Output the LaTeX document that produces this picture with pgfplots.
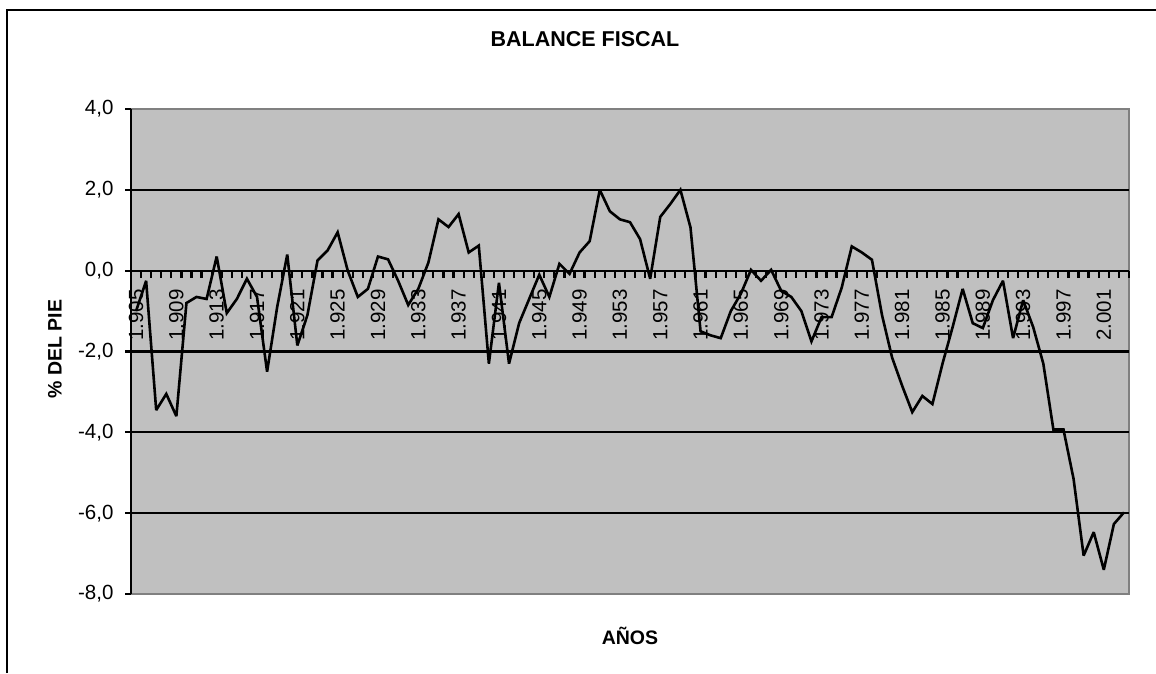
\documentclass[border=0pt]{standalone}
\usepackage{fontspec}
\setmainfont{Liberation Sans}
\usepackage{pgfplots}
\pgfplotsset{compat=1.18}
\usepackage{pgfplotstable}
\definecolor{plotgray}{RGB}{192,192,192}
\definecolor{bordergray}{RGB}{128,128,128}

\pgfplotstableread{
year val
1905 -1.0
1906 -0.25
1907 -3.45
1908 -3.05
1909 -3.6
1910 -0.8
1911 -0.65
1912 -0.7
1913 0.35
1914 -1.05
1915 -0.7
1916 -0.2
1917 -0.65
1918 -2.5
1919 -0.9
1920 0.4
1921 -1.85
1922 -1.1
1923 0.25
1924 0.5
1925 0.95
1926 0.0
1927 -0.65
1928 -0.45
1929 0.35
1930 0.28
1931 -0.25
1932 -0.85
1933 -0.45
1934 0.2
1935 1.27
1936 1.08
1937 1.4
1938 0.45
1939 0.62
1940 -2.3
1941 -0.3
1942 -2.3
1943 -1.3
1944 -0.7
1945 -0.1
1946 -0.65
1947 0.17
1948 -0.08
1949 0.45
1950 0.73
1951 2.0
1952 1.47
1953 1.27
1954 1.2
1955 0.78
1956 -0.2
1957 1.33
1958 1.65
1959 2.0
1960 1.07
1961 -1.5
1962 -1.6
1963 -1.67
1964 -1.0
1965 -0.57
1966 0.02
1967 -0.25
1968 0.02
1969 -0.5
1970 -0.65
1971 -1.0
1972 -1.75
1973 -1.15
1974 -1.15
1975 -0.42
1976 0.6
1977 0.45
1978 0.27
1979 -1.1
1980 -2.15
1981 -2.85
1982 -3.5
1983 -3.1
1984 -3.3
1985 -2.3
1986 -1.4
1987 -0.45
1988 -1.3
1989 -1.42
1990 -0.73
1991 -0.25
1992 -1.67
1993 -0.73
1994 -1.4
1995 -2.3
1996 -3.93
1997 -3.93
1998 -5.15
1999 -7.05
2000 -6.47
2001 -7.4
2002 -6.27
2003 -5.98
}\balance

\begin{document}
\begin{tikzpicture}[x=1pt,y=1pt]
\useasboundingbox (0,0) rectangle (1156,673);
\fill[white] (0,0) rectangle (1156,673);
\draw[line width=2.2pt] (7,0) -- (7,663) -- (1156,663);
\node[font=\fontsize{21.5}{21.5}\selectfont\bfseries] at (585,634) {BALANCE FISCAL};
\node[font=\fontsize{19.5}{19.5}\selectfont\bfseries, rotate=90] at (55,324) {\% DEL PIE};
\node[font=\fontsize{19.5}{19.5}\selectfont\bfseries] at (630,37) {AÑOS};
\begin{axis}[
  at={(131pt,79pt)}, anchor=south west,
  scale only axis, width=998pt, height=485pt,
  xmin=1904.5, xmax=2003.5, ymin=-8, ymax=4,
  axis x line=middle, axis y line=left,
  axis line style={-, black, line width=2.2pt},
  axis background/.style={fill=plotgray, draw=bordergray, line width=2.2pt},
  ytick={-8,-6,...,4},
  yticklabels={{-8,0},{-6,0},{-4,0},{-2,0},{0,0},{2,0},{4,0}},
  extra y ticks={-6,-4,-2,2},
  extra y tick labels={},
  extra y tick style={grid=major, major grid style={black, line width=2.2pt}},
  tick align=outside,
  major tick length=6pt,
  minor tick length=7pt,
  every tick/.style={black, line width=2.2pt},
  xtick={1905,1909,...,2001},
  xticklabels={{1.905},{1.909},{1.913},{1.917},{1.921},{1.925},{1.929},{1.933},{1.937},{1.941},{1.945},{1.949},{1.953},{1.957},{1.961},{1.965},{1.969},{1.973},{1.977},{1.981},{1.985},{1.989},{1.993},{1.997},{2.001}},
  major x tick style={draw=none},
  minor xtick={1905.5,1906.5,...,2003.5},
  ticklabel style={font=\fontsize{20.5}{21}\selectfont},
  xticklabel style={yshift=-9pt, rotate=90, anchor=east},
  yticklabel style={anchor=east, xshift=-8pt},
  clip=false,
]
\addplot[black, line width=2.6pt, mark=none, line join=miter, miter limit=3] table[x=year,y=val]{\balance};
\end{axis}
\end{tikzpicture}
\end{document}
